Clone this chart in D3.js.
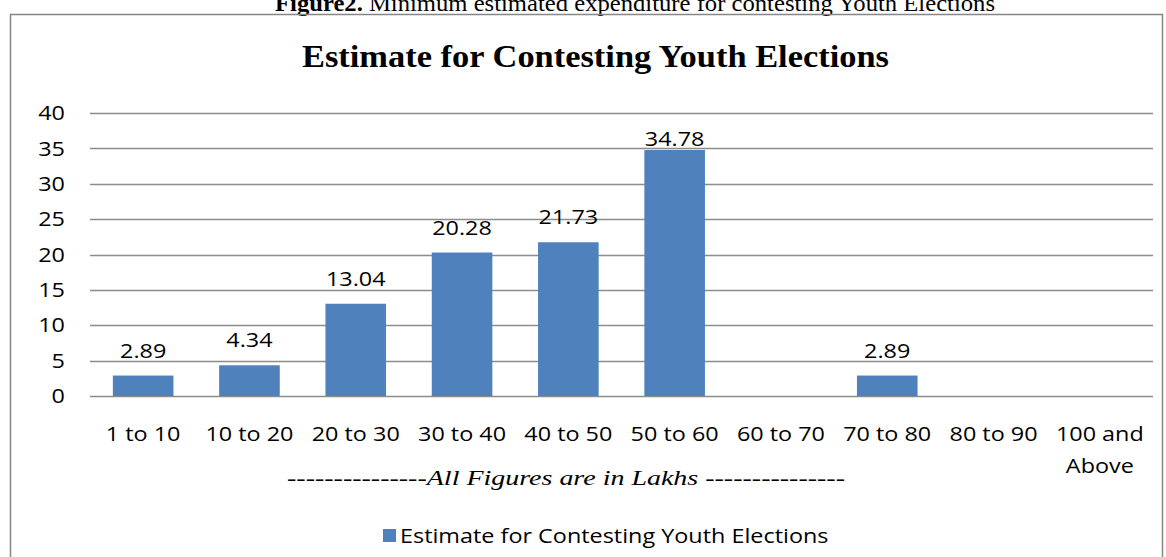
<!DOCTYPE html>
<html>
<head>
<meta charset="utf-8">
<script src="https://cdn.jsdelivr.net/npm/d3@7"></script>
<style>
  body { margin: 0; background: #fff; }
  svg { display: block; }
</style>
</head>
<body>
<svg width="1166" height="557"></svg>
<script>
var categories = ["1 to 10", "10 to 20", "20 to 30", "30 to 40", "40 to 50",
  "50 to 60", "60 to 70", "70 to 80", "80 to 90", "100 and|Above"];
var values = [2.89, 4.34, 13.04, 20.28, 21.73, 34.78, null, 2.89, null, null];
var yTicks = [0, 5, 10, 15, 20, 25, 30, 35, 40];
var seriesName = "Estimate for Contesting Youth Elections";

var svg = d3.select("svg"),
  width = +svg.attr("width"),
  height = +svg.attr("height");

var labelFont = "'Open Sans', sans-serif";
var serif = "'Liberation Serif', 'Times New Roman', serif";
var stretch = 1.17; // source text is wider than Open Sans

// widen a text horizontally around its own x
function widen(sel) {
  sel.attr("transform", function () {
    var x0 = +this.getAttribute("x") || 0;
    return "translate(" + x0 + ",0) scale(" + stretch + ",1) translate(" + (-x0) + ",0)";
  });
}

// caption above the frame (cut off at top, like the source)
var cap = svg.append("text")
  .attr("x", 275).attr("y", 11)
  .attr("textLength", 720).attr("lengthAdjust", "spacingAndGlyphs")
  .style("font-family", serif).style("font-size", "24px");
cap.append("tspan").style("font-weight", "bold").text("Figure2.");
cap.append("tspan").text(" Minimum estimated expenditure for contesting  Youth Elections");

// chart frame
svg.append("rect")
  .attr("x", 10.5).attr("y", 14.5)
  .attr("width", 1152).attr("height", 560)
  .attr("fill", "none").attr("stroke", "#868686").attr("stroke-width", 1.5);

svg.append("text")
  .attr("x", 302).attr("y", 67)
  .attr("textLength", 587).attr("lengthAdjust", "spacingAndGlyphs")
  .style("font-family", serif).style("font-weight", "bold").style("font-size", "32px")
  .text("Estimate for Contesting Youth Elections");

var margin = { left: 90, right: 1153, top: 113, bottom: 396 };

var x = d3.scaleBand()
  .domain(categories)
  .range([margin.left, margin.right])
  .paddingInner(0.43).paddingOuter(0.215);

var y = d3.scaleLinear()
  .domain([0, 40])
  .range([margin.bottom, margin.top]);

// gridlines
svg.append("g")
  .selectAll("line")
  .data(yTicks)
  .enter().append("line")
  .attr("x1", margin.left).attr("x2", margin.right)
  .attr("y1", function (d) { return Math.round(y(d)) + 0.5; })
  .attr("y2", function (d) { return Math.round(y(d)) + 0.5; })
  .attr("stroke", "#8c8c8c").attr("stroke-width", 1.3);

// y axis labels
svg.append("g")
  .selectAll("text")
  .data(yTicks)
  .enter().append("text")
  .attr("x", margin.left - 25)
  .attr("y", function (d) { return y(d); })
  .attr("dy", "0.36em")
  .attr("text-anchor", "end")
  .style("font-family", labelFont).style("font-size", "20px")
  .text(function (d) { return d; })
  .call(widen);

// bars
var barData = categories.map(function (c, i) { return { cat: c, v: values[i] }; })
  .filter(function (d) { return d.v != null; });

svg.append("g")
  .selectAll("rect")
  .data(barData)
  .enter().append("rect")
  .attr("x", function (d) { return x(d.cat); })
  .attr("width", x.bandwidth())
  .attr("y", function (d) { return y(d.v); })
  .attr("height", function (d) { return y(0) - y(d.v); })
  .attr("fill", "#4f81bd");

// value labels, kept inside the plot area like the source
svg.append("g")
  .selectAll("text")
  .data(barData)
  .enter().append("text")
  .attr("x", function (d) { return x(d.cat) + x.bandwidth() / 2; })
  .attr("y", function (d) { return Math.max(y(d.v) - 18, margin.top + 33); })
  .attr("text-anchor", "middle")
  .style("font-family", labelFont).style("font-size", "20px")
  .text(function (d) { return d.v.toFixed(2); })
  .call(widen);

// x axis labels
var xl = svg.append("g")
  .selectAll("text")
  .data(categories)
  .enter().append("text")
  .attr("x", function (d) { return x(d) + x.bandwidth() / 2; })
  .attr("y", 441)
  .attr("text-anchor", "middle")
  .style("font-family", labelFont).style("font-size", "20px");
xl.selectAll("tspan")
  .data(function (d) { return d.split("|"); })
  .enter().append("tspan")
  .attr("x", function () { return this.parentNode.getAttribute("x"); })
  .attr("dy", function (d, i) { return i ? "1.6em" : 0; })
  .text(function (d) { return d; });
xl.call(widen);

svg.append("text")
  .attr("x", 287).attr("y", 485)
  .attr("textLength", 558).attr("lengthAdjust", "spacingAndGlyphs")
  .style("font-family", serif).style("font-size", "22px")
  .html("---------------<tspan font-style='italic'>All Figures are in Lakhs</tspan> ---------------");

// legend
svg.append("rect")
  .attr("x", 383).attr("y", 529).attr("width", 13).attr("height", 13)
  .attr("fill", "#4f81bd");
svg.append("text")
  .attr("x", 400).attr("y", 543)
  .style("font-family", labelFont).style("font-size", "20px")
  .text(seriesName)
  .call(widen);
</script>
</body>
</html>
